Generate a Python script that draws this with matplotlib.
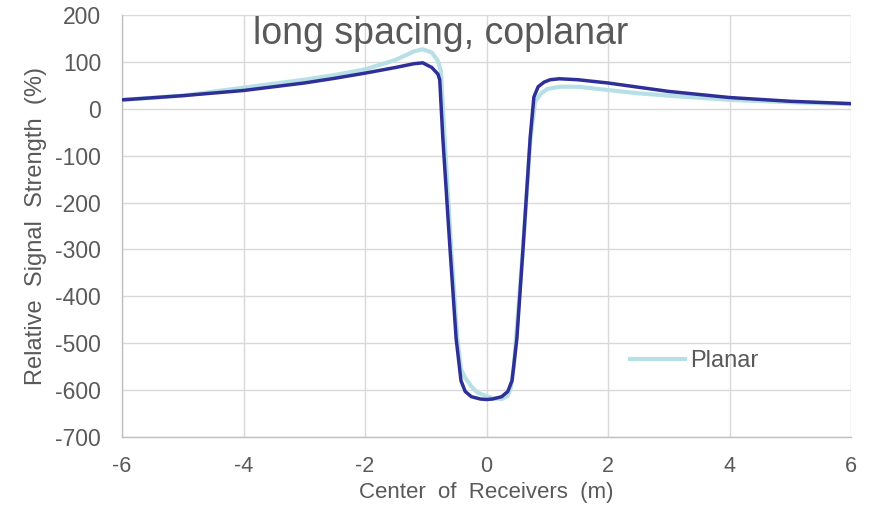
import matplotlib.pyplot as plt
from matplotlib.ticker import MultipleLocator

plt.rcParams["axes.unicode_minus"] = False

# receiver centre positions (m) and relative signal strength (%)
x_dipole = [-6, -5, -4, -3, -2.5, -2, -1.5, -1.2, -1.05, -0.9, -0.8, -0.77,
            -0.72, -0.6, -0.5, -0.42, -0.35, -0.25, -0.1, 0, 0.1, 0.25, 0.35,
            0.42, 0.5, 0.6, 0.72, 0.78, 0.85, 0.95, 1.05, 1.2, 1.5, 2, 2.5,
            3, 4, 5, 6]
y_dipole = [19, 28, 39, 55, 65, 76, 88, 96, 98, 88, 74, 62,
            -60, -300, -490, -580, -603, -614, -619, -620, -619, -614, -603,
            -580, -490, -300, -60, 25, 47, 57, 62, 64, 62, 55, 46,
            37, 24, 16, 11]

x_planar = [-6, -5, -4, -3, -2.5, -2, -1.5, -1.2, -1.05, -0.9, -0.8, -0.75,
            -0.7, -0.58, -0.48, -0.42, -0.36, -0.25, -0.15, 0, 0.1, 0.25, 0.35,
            0.4, 0.45, 0.6, 0.72, 0.8, 0.9, 1.0, 1.2, 1.5, 2, 2.5,
            3, 4, 5, 6]
y_planar = [19, 28, 45, 62, 72, 84, 104, 122, 127, 120, 102, 80,
            -40, -300, -490, -555, -572, -592, -605, -613, -617, -619, -612,
            -595, -550, -300, -70, 15, 33, 42, 47, 47, 40, 33,
            28, 19, 14, 10]

GREY = "#595959"
FONT = ["Liberation Sans", "DejaVu Sans"]

fig = plt.figure(figsize=(8.71, 5.05), dpi=100)
ax = fig.add_axes([122 / 871, 68 / 505, 729 / 871, 422 / 505])

ax.plot(x_planar, y_planar, color="#b7e0e6", lw=3.0, label="Planar",
        solid_joinstyle="round", zorder=3)
ax.plot(x_dipole, y_dipole, color="#2f2f98", lw=2.5,
        solid_joinstyle="round", zorder=4)

ax.set_xlim(-6, 6)
ax.set_ylim(-700, 200)
ax.xaxis.set_major_locator(MultipleLocator(2))
ax.yaxis.set_major_locator(MultipleLocator(100))
ax.grid(True, color="#d9d9d9", lw=1.0, zorder=0)
ax.set_axisbelow(True)
for side in ["top", "right"]:
    ax.spines[side].set_visible(False)
for side in ["left", "bottom"]:
    ax.spines[side].set_color("#bfbfbf")
    ax.spines[side].set_linewidth(1.0)

ax.tick_params(axis="y", length=0, pad=15, labelsize=16.5, labelcolor=GREY)
ax.tick_params(axis="x", length=0, pad=14, labelsize=15.5, labelcolor=GREY)
for lab in ax.get_yticklabels() + ax.get_xticklabels():
    lab.set_family(FONT)

ax.set_xlabel("Center  of  Receivers  (m)", fontsize=16, color=GREY,
              family=FONT, labelpad=3)
ax.set_ylabel("Relative  Signal  Strength  (%)", fontsize=17, color=GREY,
              family=FONT, labelpad=6)

fig.text(441 / 871, 1 - 34 / 505, "long spacing, coplanar", fontsize=27,
         color=GREY, family=FONT, ha="center", va="center")

leg = ax.legend(loc="center left", bbox_to_anchor=(609 / 871, 1 - 361 / 505),
                bbox_transform=fig.transFigure, frameon=False,
                handlelength=2.3, handletextpad=0.25,
                prop={"family": FONT, "size": 17})
for t in leg.get_texts():
    t.set_color(GREY)

fig.savefig("out.png", dpi=100)
